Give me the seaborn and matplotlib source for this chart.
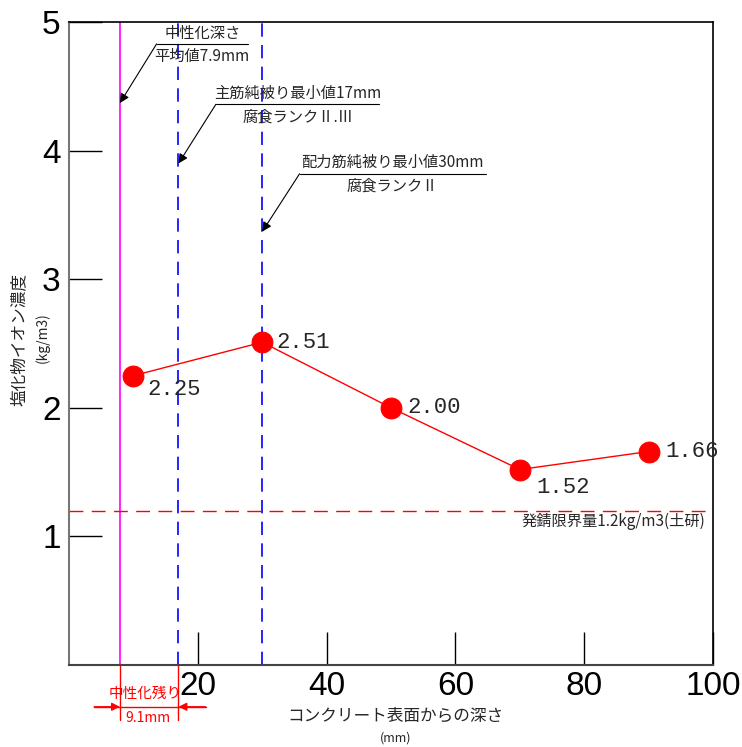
import matplotlib
matplotlib.use('Agg')
import matplotlib.pyplot as plt
import seaborn as sns

depth = [10, 30, 50, 70, 90]
chloride = [2.25, 2.51, 2.00, 1.52, 1.66]
point_labels = ['2.25', '2.51', '2.00', '1.52', '1.66']
label_offsets = [(10, -10), (10, 0), (12, 0), (12, -13), (12, 0)]

carb_depth = 7.9
main_cover = 17
dist_cover = 30
rust_limit = 1.2

x_ticks = [20, 40, 60, 80, 100]
y_ticks = [1, 2, 3, 4, 5]

sns.set_theme(style='white')
jp = ['Noto Sans CJK JP', 'DejaVu Sans']
plt.rcParams['font.family'] = jp

fig = plt.figure(figsize=(7.42, 7.47), dpi=100)
ax = fig.add_axes([0.093, 0.1098, 0.868, 0.8607])

sns.lineplot(x=depth, y=chloride, ax=ax, color='red', linewidth=1,
             marker='o', markersize=15, markeredgecolor='red', zorder=5)

for xv, yv, lab, off in zip(depth, chloride, point_labels, label_offsets):
    ax.annotate(lab, (xv, yv), xytext=off, textcoords='offset points',
                ha='left', va='center', fontsize=16, family=['Liberation Mono', 'DejaVu Sans'])

ax.axvline(carb_depth, color='magenta', linewidth=1.2)
ax.axvline(main_cover, color='blue', linewidth=1.2, linestyle=(0, (8, 5)))
ax.axvline(dist_cover, color='blue', linewidth=1.2, linestyle=(0, (8, 5)))
ax.axhline(rust_limit, color='red', linewidth=1, linestyle=(0, (10, 6)))

# leader notes
notes = [
    (carb_depth, 4.37, 13.6, 27.8, 4.83, '中性化深さ', '平均値7.9mm'),
    (main_cover, 3.90, 22.8, 48.2, 4.36, '主筋純被り最小値17mm', '腐食ランクⅡ.Ⅲ'),
    (dist_cover, 3.37, 35.8, 64.7, 3.82, '配力筋純被り最小値30mm', '腐食ランクⅡ'),
]
for tx, ty, x0, x1, yl, top, bottom in notes:
    ax.plot([x0, x1], [yl, yl], color='black', linewidth=0.8)
    ax.annotate('', xy=(tx, ty), xytext=(x0, yl),
                arrowprops=dict(arrowstyle='-|>', color='black', lw=0.8,
                                mutation_scale=14, shrinkA=0, shrinkB=0))
    xm = (x0 + x1) / 2
    ax.text(xm, yl + 0.02, top, ha='center', va='bottom', fontsize=11)
    ax.text(xm, yl - 0.03, bottom, ha='center', va='top', fontsize=11)

ax.text(98.8, 1.12, '発錆限界量1.2kg/m3(土研)', ha='right', va='center', fontsize=11)

ax.set_xlim(0, 100)
ax.set_ylim(0, 5)
ax.set_xticks(x_ticks)
ax.set_yticks(y_ticks)
ax.tick_params(axis='both', direction='in', length=24, width=1, colors='black',
               labelsize=24, bottom=True, left=True, pad=6)
for lab in ax.get_xticklabels() + ax.get_yticklabels():
    lab.set_family(['Liberation Sans', 'DejaVu Sans'])
ax.tick_params(axis='x', pad=4)

for side in ['top', 'right']:
    ax.spines[side].set_color('black')
    ax.spines[side].set_linewidth(1.2)
ax.spines['left'].set_color('#777777')
ax.spines['left'].set_linewidth(1.5)
ax.spines['bottom'].set_color('#444444')
ax.spines['bottom'].set_linewidth(1.5)

# y label (two lines, rotated)
fig.text(0.027, 0.545, '塩化物イオン濃度', rotation=90, ha='center', va='center', fontsize=12)
fig.text(0.057, 0.548, '(kg/m3)', rotation=90, ha='center', va='center', fontsize=10)

# x label
fig.text(0.533, 0.041, 'コンクリート表面からの深さ', ha='center', va='center', fontsize=12)
fig.text(0.533, 0.012, '(mm)', ha='center', va='center', fontsize=9)

# remaining-cover dimension below the axis
trans = ax.get_xaxis_transform()
for xv in [carb_depth, main_cover]:
    ax.plot([xv, xv], [0, -0.085], transform=trans, color='red', linewidth=1, clip_on=False)
ax.plot([3.9, 21.2], [-0.065, -0.065], transform=trans, color='red', linewidth=1, clip_on=False)
ax.annotate('', xy=(carb_depth, -0.065), xytext=(3.9, -0.065), xycoords=trans, textcoords=trans,
            arrowprops=dict(arrowstyle='-|>', color='red', lw=1, mutation_scale=12, shrinkA=0, shrinkB=0))
ax.annotate('', xy=(main_cover, -0.065), xytext=(21.2, -0.065), xycoords=trans, textcoords=trans,
            arrowprops=dict(arrowstyle='-|>', color='red', lw=1, mutation_scale=12, shrinkA=0, shrinkB=0))
ax.text(11.8, -0.056, '中性化残り', transform=trans, ha='center', va='bottom', color='red', fontsize=10.5)
ax.text(12.3, -0.072, '9.1mm', transform=trans, ha='center', va='top', color='red', fontsize=10)

fig.savefig('out.png', dpi=100)
